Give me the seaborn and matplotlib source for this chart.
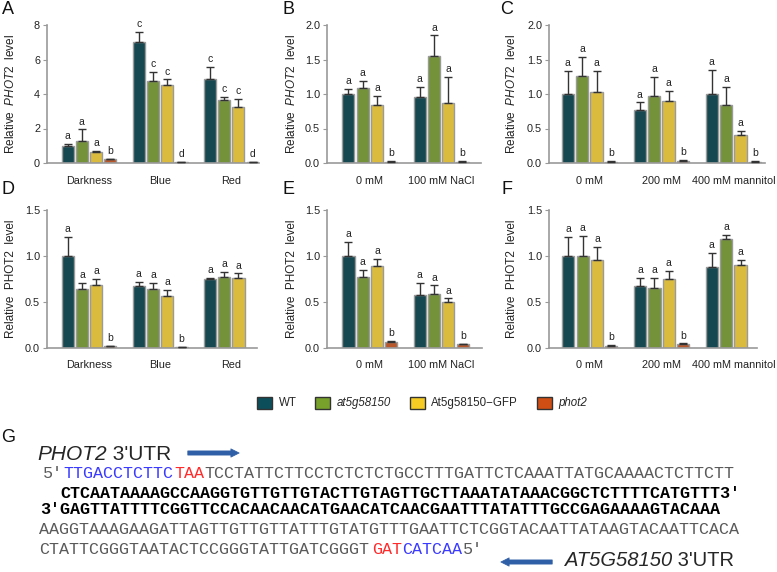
import numpy as np
import pandas as pd
import matplotlib
matplotlib.use('Agg')
import matplotlib.pyplot as plt
from matplotlib.patches import Patch
import seaborn as sns

# genotypes and colours
genos = ['WT', 'at5g58150', 'At5g58150\u2212GFP', 'phot2']
colors = ['#0c4f5b', '#77a12a', '#f5cb24', '#d04e14']

# panel A - light, PHOT2 (italic)
A_conds = ['Darkness', 'Blue', 'Red']
A_means = [[1.0, 7.0, 4.87], [1.28, 4.77, 3.65], [0.62, 4.5, 3.27], [0.21, 0.06, 0.06]]
A_tops = [[1.12, 7.6, 5.58], [1.95, 5.3, 3.85], [0.7, 4.85, 3.73], [0.25, 0.08, 0.08]]
A_letters = [['a', 'c', 'c'], ['a', 'c', 'c'], ['a', 'c', 'c'], ['b', 'd', 'd']]

# panel B - NaCl
B_conds = ['0 mM', '100 mM NaCl']
B_means = [[1.0, 0.95], [1.08, 1.546], [0.845, 0.87], [0.02, 0.02]]
B_tops = [[1.07, 1.10], [1.19, 1.85], [0.97, 1.25], [0.025, 0.03]]
B_letters = [['a', 'a'], ['a', 'a'], ['a', 'a'], ['b', 'b']]

# panel C - mannitol
C_conds = ['0 mM', '200 mM', '400 mM mannitol']
C_means = [[1.0, 0.77, 1.0], [1.256, 0.966, 0.835], [1.03, 0.9, 0.405], [0.02, 0.035, 0.02]]
C_tops = [[1.33, 0.88, 1.35], [1.54, 1.25, 1.1], [1.33, 1.05, 0.46], [0.025, 0.045, 0.025]]
C_letters = [['a', 'a', 'a'], ['a', 'a', 'a'], ['a', 'a', 'a'], ['b', 'b', 'b']]

# panel D - light, PHOT2 protein
D_conds = ['Darkness', 'Blue', 'Red']
D_means = [[1.0, 0.67, 0.745], [0.643, 0.643, 0.77], [0.68, 0.57, 0.76], [0.02, 0.01, np.nan]]
D_tops = [[1.21, 0.72, 0.76], [0.71, 0.705, 0.83], [0.75, 0.63, 0.81], [0.022, 0.012, np.nan]]
D_letters = [['a', 'a', 'a'], ['a', 'a', 'a'], ['a', 'a', 'a'], ['b', 'b', '']]

# panel E - NaCl
E_conds = ['0 mM', '100 mM NaCl']
E_means = [[1.0, 0.571], [0.773, 0.585], [0.896, 0.5], [0.061, 0.043]]
E_tops = [[1.15, 0.708], [0.845, 0.68], [0.965, 0.54], [0.08, 0.047]]
E_letters = [['a', 'a'], ['a', 'a'], ['a', 'a'], ['b', 'b']]

# panel F - mannitol
F_conds = ['0 mM', '200 mM', '400 mM mannitol']
F_means = [[1.0, 0.67, 0.878], [1.0, 0.654, 1.18], [0.954, 0.745, 0.907], [0.025, 0.045, np.nan]]
F_tops = [[1.21, 0.76, 1.037], [1.22, 0.766, 1.23], [1.095, 0.84, 0.958], [0.03, 0.05, np.nan]]
F_letters = [['a', 'a', 'a'], ['a', 'a', 'a'], ['a', 'a', 'a'], ['b', 'b', '']]

sns.set_style('white')
plt.rcParams['font.family'] = ['Liberation Sans', 'DejaVu Sans']
plt.rcParams['mathtext.fontset'] = 'custom'
plt.rcParams['mathtext.rm'] = 'Liberation Sans'
plt.rcParams['mathtext.it'] = 'Liberation Sans:italic'

W, H = 777, 572
fig = plt.figure(figsize=(W / 100, H / 100), dpi=100)


def px_axes(l, r, t, b):
    return fig.add_axes([l / W, 1 - b / H, (r - l) / W, (b - t) / H])


def panel(box, conds, means, tops, letters, ylim, yticks, ylab, xlim, lab_x):
    l, r, t, b = box
    ax = px_axes(l, r, t, b)
    rows = []
    for gi, g in enumerate(genos):
        for ci, c in enumerate(conds):
            if not np.isnan(means[gi][ci]):
                rows.append({'cond': c, 'geno': g, 'mean': means[gi][ci]})
    df = pd.DataFrame(rows)
    sns.barplot(data=df, x='cond', y='mean', hue='geno', order=conds, hue_order=genos,
                palette=colors, errorbar=None, gap=0.15, edgecolor='#9a9a9a',
                linewidth=1, legend=False, ax=ax)
    for p in ax.patches:
        cx = p.get_x() + p.get_width() / 2
        ci = int(round(cx))
        gi = int(round((cx - ci + 0.3) / 0.2))
        m = means[gi][ci]
        top = tops[gi][ci]
        ax.errorbar(cx, m, yerr=[[0], [top - m]], fmt='none', ecolor='#333333',
                    elinewidth=1, capsize=2.8, capthick=1, zorder=3)
        ax.annotate(letters[gi][ci], (cx, top), xytext=(0, 2), textcoords='offset points',
                    ha='center', va='bottom', fontsize=7.5, color='#222222')
    ax.set_xlim(*xlim)
    ax.set_ylim(*ylim)
    ax.set_yticks(yticks)
    ax.set_xlabel('')
    ax.set_ylabel(ylab, fontsize=8.5, color='#222222')
    ax.yaxis.set_label_coords((lab_x - l) / (r - l), 0.5)
    sns.despine(ax=ax)
    for s in ['left', 'bottom']:
        ax.spines[s].set_color('#999999')
        ax.spines[s].set_linewidth(1.2)
    ax.tick_params(axis='x', length=0, pad=9, labelsize=7.8, labelcolor='#222222')
    ax.tick_params(axis='y', length=3, width=0.8, color='#999999', pad=2,
                   labelsize=7.8, labelcolor='#222222', left=True)
    return ax


lab_it = r'Relative  $\mathit{PHOT2}$  level'
lab_rm = 'Relative  PHOT2  level'
panel((47, 259, 25, 163), A_conds, A_means, A_tops, A_letters, (0, 8), [0, 2, 4, 6, 8],
      lab_it, (-0.59, 2.39), 17)
panel((327, 481, 25, 163), B_conds, B_means, B_tops, B_letters, (0, 2), [0, 0.5, 1, 1.5, 2],
      lab_it, (-0.6, 1.56), 298)
panel((549, 765, 25, 163), C_conds, C_means, C_tops, C_letters, (0, 2), [0, 0.5, 1, 1.5, 2],
      lab_it, (-0.56, 2.44), 518)
panel((47, 257, 210, 348), D_conds, D_means, D_tops, D_letters, (0, 1.5), [0, 0.5, 1, 1.5],
      lab_rm, (-0.59, 2.36), 17)
panel((327, 482, 210, 348), E_conds, E_means, E_tops, E_letters, (0, 1.5), [0, 0.5, 1, 1.5],
      lab_rm, (-0.6, 1.57), 298)
panel((549, 757, 210, 348), F_conds, F_means, F_tops, F_letters, (0, 1.5), [0, 0.5, 1, 1.5],
      lab_rm, (-0.57, 2.33), 518)

# overlay axes in pixel units for letters, legend and panel G
ov = fig.add_axes([0, 0, 1, 1])
ov.set_xlim(0, W)
ov.set_ylim(H, 0)
ov.axis('off')

for letter, x, y in [('A', 8, 10), ('B', 288, 10), ('C', 507, 10),
                     ('D', 8, 190), ('E', 289, 190), ('F', 507, 190), ('G', 8, 438)]:
    ov.text(x, y, letter, fontsize=13, ha='center', va='center', color='#111111')

handles = [Patch(facecolor=c, edgecolor='#333333', linewidth=1) for c in colors]
leg = fig.legend(handles, genos, ncol=4, loc='center', bbox_to_anchor=(422 / W, 1 - 403 / H),
                 frameon=False, fontsize=8.3, handlelength=1.3, handleheight=1.25,
                 handletextpad=0.6, columnspacing=1.6)
for txt in leg.get_texts():
    if txt.get_text() in ('at5g58150', 'phot2'):
        txt.set_fontstyle('italic')

# panel G - sequences
fs = 12.1
cw = 0.6 * fs * 100 / 72
mono = 'Liberation Mono'
grey = '#5a5a5a'
blue = '#3b3bff'
red = '#ff2b2b'


def seq_line(x, y, segs, weight='normal'):
    for s, col in segs:
        ov.text(x, y, s, family=mono, fontsize=fs, color=col, weight=weight,
                ha='left', va='center')
        x += len(s) * cw


seq_line(43, 474, [("5'", grey), ('TTGACCTCTTC', blue), ('TAA', red),
                   ('TCCTATTCTTCCTCTCTCTGCCTTTGATTCTCAAATTATGCAAAACTCTTCTT', grey)])
seq_line(60, 493, [("CTCAATAAAAGCCAAGGTGTTGTTGTACTTGTAGTTGCTTAAATATAAACGGCTCTTTTCATGTTT3'", 'black')],
         weight='bold')
seq_line(40, 509, [("3'GAGTTATTTTCGGTTCCACAACAACATGAACATCAACGAATTTATATTTGCCGAGAAAAGTACAAA", 'black')],
         weight='bold')
seq_line(39, 530, [('AAGGTAAAGAAGATTAGTTGTTGTTATTTGTATGTTTGAATTCTCGGTACAATTATAAGTACAATTCACA', grey)])
seq_line(39, 549, [('CTATTCGGGTAATACTCCGGGTATTGATCGGGT', grey), ('GAT', red), ('CATCAA', blue),
                   ("5'", grey)])

t1 = ov.text(37, 454, 'PHOT2', fontsize=15, style='italic', ha='left', va='center')
ov.annotate(" 3'UTR", xy=(1, 0.5), xycoords=t1, fontsize=15, ha='left', va='center')
ov.annotate('', xy=(242, 453), xytext=(185, 453),
            arrowprops=dict(arrowstyle='simple,head_length=0.6,head_width=0.6,tail_width=0.3',
                            color='#2f5fa6', lw=0.5))
t2 = ov.text(565, 561, 'AT5G58150', fontsize=14.5, style='italic', ha='left', va='center')
ov.annotate(" 3'UTR", xy=(1, 0.5), xycoords=t2, fontsize=14.5, ha='left', va='center')
ov.annotate('', xy=(498, 562), xytext=(555, 562),
            arrowprops=dict(arrowstyle='simple,head_length=0.6,head_width=0.6,tail_width=0.3',
                            color='#2f5fa6', lw=0.5))

fig.savefig('out.png', dpi=100)
